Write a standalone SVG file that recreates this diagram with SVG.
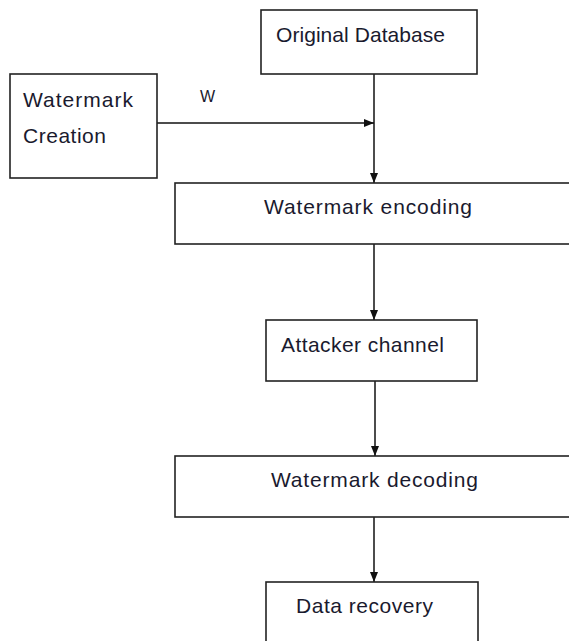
<svg xmlns="http://www.w3.org/2000/svg" width="569" height="641" viewBox="0 0 569 641">
<style>
.box{fill:#fff;stroke:#222;stroke-width:1.6}
.lbl{font-family:"Liberation Sans",Arial,sans-serif;font-size:21px;fill:#1a1a2e}
.edge{stroke:#111;stroke-width:1.5;fill:none}
</style>
<defs>
<marker id="ah" viewBox="0 0 10 10" refX="10" refY="5" markerWidth="10" markerHeight="10" markerUnits="userSpaceOnUse" orient="auto">
<path d="M0,1 L10,5 L0,9 z" fill="#111"/>
</marker>
</defs>
<rect width="569" height="641" fill="#fff"/>
<g id="connectors">
<line class="edge" x1="157" y1="123" x2="374" y2="123" marker-end="url(#ah)"/>
<line class="edge" x1="374" y1="74" x2="374" y2="183" marker-end="url(#ah)"/>
<line class="edge" x1="374" y1="244" x2="374" y2="320" marker-end="url(#ah)"/>
<line class="edge" x1="375" y1="381" x2="375" y2="456" marker-end="url(#ah)" stroke="#555"/>
<line class="edge" x1="374" y1="517" x2="374" y2="582" marker-end="url(#ah)"/>
<text class="lbl" x="200" y="102" style="font-size:16px" textLength="15">W</text>
</g>
<g id="original-database">
<rect class="box" x="261" y="10" width="216" height="64"/>
<text class="lbl" x="276" y="41.5" textLength="169" lengthAdjust="spacing">Original Database</text>
</g>
<g id="watermark-creation">
<rect class="box" x="10" y="74" width="147" height="104"/>
<text class="lbl" x="23" y="107" textLength="110" lengthAdjust="spacing">Watermark</text>
<text class="lbl" x="23" y="143" textLength="83" lengthAdjust="spacing">Creation</text>
</g>
<g id="watermark-encoding">
<rect class="box" x="175" y="183" width="400" height="61"/>
<text class="lbl" x="264" y="214" textLength="208" lengthAdjust="spacing">Watermark encoding</text>
</g>
<g id="attacker-channel">
<rect class="box" x="266" y="320" width="211" height="61"/>
<text class="lbl" x="281" y="352" textLength="163" lengthAdjust="spacing">Attacker channel</text>
</g>
<g id="watermark-decoding">
<rect class="box" x="175" y="456" width="400" height="61"/>
<text class="lbl" x="271" y="487" textLength="207" lengthAdjust="spacing">Watermark decoding</text>
</g>
<g id="data-recovery">
<rect class="box" x="266" y="582" width="212" height="70"/>
<text class="lbl" x="296" y="613" textLength="137" lengthAdjust="spacing">Data recovery</text>
</g>
</svg>
